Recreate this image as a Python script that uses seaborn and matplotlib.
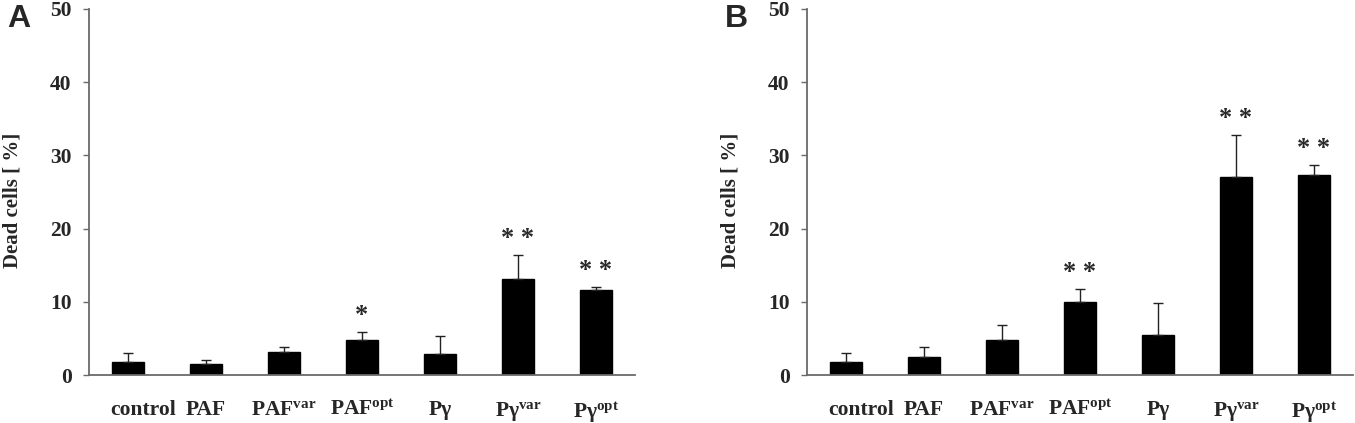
import matplotlib
matplotlib.use("Agg")
import matplotlib.pyplot as plt
import matplotlib.transforms as mtransforms
import seaborn as sns
import numpy as np
import pandas as pd

categories = ["control", "PAF", "PAF$^{\\mathrm{var}}$", "PAF$^{\\mathrm{opt}}$",
              "Pγ", "Pγ$^{\\mathrm{var}}$", "Pγ$^{\\mathrm{opt}}$"]

a_values = [1.75, 1.5, 3.15, 4.75, 2.9, 13.1, 11.65]
a_err = [1.25, 0.5, 0.65, 1.1, 2.4, 3.3, 0.35]
a_stars = ["", "", "", "*", "", "* *", "* *"]

b_values = [1.75, 2.5, 4.75, 10.0, 5.5, 27.1, 27.35]
b_err = [1.25, 1.3, 2.05, 1.7, 4.3, 5.7, 1.35]
b_stars = ["", "", "", "* *", "", "* *", "* *"]

panel_letters = ["A", "B"]
y_ticks = [0, 10, 20, 30, 40, 50]
y_label = "Dead cells [ %]"

sns.set_theme(style="white")
plt.rcParams["font.family"] = ["Liberation Serif", "DejaVu Serif"]
plt.rcParams["font.weight"] = "bold"
plt.rcParams["mathtext.fontset"] = "custom"
plt.rcParams["mathtext.rm"] = "Liberation Serif:bold"
plt.rcParams["mathtext.it"] = "Liberation Serif:bold"
plt.rcParams["mathtext.bf"] = "Liberation Serif:bold"

fig = plt.figure(figsize=(13.55, 4.23), dpi=100)
W, H = 1355, 423
axes_px = [(89, 635), (807, 1353)]
bottom_px, top_px = 375, 9

datasets = [(a_values, a_err, a_stars), (b_values, b_err, b_stars)]
letter_x = [7, 725]

for (x0, x1), (vals, errs, stars), letter, lx in zip(axes_px, datasets, panel_letters, letter_x):
    ax = fig.add_axes([x0 / W, (H - bottom_px) / H, (x1 - x0) / W, (bottom_px - top_px) / H])
    df = pd.DataFrame({"cat": categories, "val": vals})
    sns.barplot(data=df, x="cat", y="val", color="black", width=0.4,
                saturation=1, errorbar=None, ax=ax, order=categories)
    for p in ax.patches:
        p.set_edgecolor("black")
    pos = np.arange(len(categories))
    ax.errorbar(pos, vals, yerr=[np.zeros(len(vals)), errs], fmt="none",
                ecolor="#222222", elinewidth=1.0, capsize=3.5, capthick=1.0)
    for i, (v, e, s) in enumerate(zip(vals, errs, stars)):
        if s:
            ax.text(i, v + e + 2.3, s, ha="center", va="center",
                    fontsize=19, fontweight="bold", color="#2a2a2a")
    ax.set_xlim(-0.5, len(categories) - 0.5)
    ax.set_ylim(0, 50)
    ax.set_yticks(y_ticks)
    ax.set_xlabel("")
    ax.set_ylabel(y_label, fontsize=15, fontweight="bold")
    ax.yaxis.set_label_coords(-0.121, 0.478)
    for side in ["top", "right"]:
        ax.spines[side].set_visible(False)
    for side in ["left", "bottom"]:
        ax.spines[side].set_color("#6a6a6a")
        ax.spines[side].set_linewidth(1.3)
    ax.tick_params(axis="y", which="both", left=True, length=4.5, width=1.0,
                   color="#6a6a6a", pad=8, labelsize=15.5)
    ax.tick_params(axis="x", which="both", bottom=False, length=0, pad=18, labelsize=15.5)
    for lab in ax.get_xticklabels() + ax.get_yticklabels():
        lab.set_fontweight("bold")
    first = ax.get_xticklabels()[0]
    first.set_transform(first.get_transform() +
                        mtransforms.ScaledTranslation(15 / 100, 0, fig.dpi_scale_trans))
    fig.text(lx / W, 1 - 4 / H, letter, ha="left", va="top", fontsize=23,
             fontweight="bold", family=["Liberation Sans", "DejaVu Sans"])

fig.savefig("out.png", dpi=100)
